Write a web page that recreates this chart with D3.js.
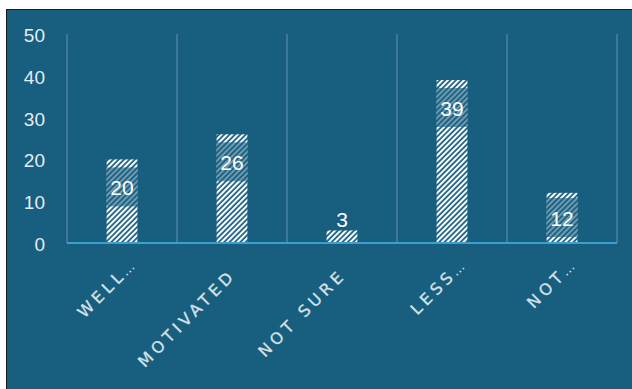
<!DOCTYPE html>
<html>
<head>
<meta charset="utf-8">
<script src="https://cdn.jsdelivr.net/npm/d3@7"></script>
<style>
  html, body { margin: 0; padding: 0; background: #ffffff; }
  svg { display: block; }
</style>
</head>
<body>
<svg id="chart" width="632" height="389"></svg>
<script>
// ---- data ----
const categories = ["WELL", "MOTIVATED", "NOT SURE", "LESS", "NOT"];
const truncated = [true, false, false, true, true];
const values = [20, 26, 3, 39, 12];
const yTicks = [0, 10, 20, 30, 40, 50];

// ---- layout ----
const W = 632, H = 389;
const bg = "#175e7f";
const svg = d3.select("#chart");

svg.append("rect").attr("x", 6.5).attr("y", 9.5).attr("width", W).attr("height", H)
  .attr("fill", bg).attr("stroke", "#1b1b1b").attr("stroke-width", 1);

const x = d3.scaleBand().domain(categories).range([67, 617]).padding(0);
const xBar = d3.scaleBand().domain(categories).range([67, 617]).paddingInner(0.72).paddingOuter(0.36);
const y = d3.scaleLinear().domain([0, 50]).range([243, 34]);

// pattern
const defs = svg.append("defs");
const pat = defs.append("pattern").attr("id", "hatch").attr("patternUnits", "userSpaceOnUse")
  .attr("width", 3.8).attr("height", 3.8).attr("patternTransform", "rotate(45)");
pat.append("rect").attr("width", 3.8).attr("height", 3.8).attr("fill", bg);
pat.append("line").attr("x1", 1).attr("x2", 1).attr("y1", 0).attr("y2", 3.8)
  .attr("stroke", "#ffffff").attr("stroke-width", 2.1);

// vertical gridlines at band boundaries
const bounds = categories.map(c => x(c)).concat([x.range()[1]]);
svg.append("g").selectAll("line").data(bounds).join("line")
  .attr("x1", d => d).attr("x2", d => d)
  .attr("y1", y(50)).attr("y2", y(0))
  .attr("stroke", "#4a83a0").attr("stroke-width", 1.5);

// y labels
svg.append("g").selectAll("text").data(yTicks).join("text")
  .attr("x", 45).attr("y", d => y(d) + 1.5)
  .attr("text-anchor", "end").attr("dominant-baseline", "central")
  .attr("font-family", "Liberation Sans, Arial, sans-serif").attr("font-size", 19)
  .attr("fill", "#e4edf3").text(d => d);

// bars
const data = categories.map((c, i) => ({ c, v: values[i] }));
const g = svg.append("g");
g.selectAll("rect.bar").data(data).join("rect").attr("class", "bar")
  .attr("x", d => xBar(d.c)).attr("width", xBar.bandwidth())
  .attr("y", d => y(d.v)).attr("height", d => y(0) - y(d.v))
  .attr("fill", "url(#hatch)");

// label boxes + labels
const boxH = 39;
data.forEach(d => {
  const top = y(d.v);
  const cx = xBar(d.c) + xBar.bandwidth() / 2;
  if (y(0) - top > boxH + 10) {
    let bTop = top + 8;
    if (bTop + boxH > y(0) - 6) bTop = y(0) - 6 - boxH;
    g.append("rect").attr("x", xBar(d.c)).attr("width", xBar.bandwidth())
      .attr("y", bTop).attr("height", boxH).attr("fill", bg).attr("fill-opacity", 0.62);
    g.append("text").attr("x", cx).attr("y", bTop + boxH / 2 + 1)
      .attr("text-anchor", "middle").attr("dominant-baseline", "central")
      .attr("font-family", "Liberation Sans, Arial, sans-serif").attr("font-size", 21)
      .attr("fill", "#ffffff").text(d.v);
  } else {
    g.append("text").attr("x", cx).attr("y", top - 3)
      .attr("text-anchor", "middle")
      .attr("font-family", "Liberation Sans, Arial, sans-serif").attr("font-size", 21)
      .attr("fill", "#ffffff").text(d.v);
  }
});

// baseline
svg.append("line").attr("x1", x.range()[0]).attr("x2", x.range()[1])
  .attr("y1", y(0)).attr("y2", y(0)).attr("stroke", "#3b9fd2").attr("stroke-width", 2);

// x labels
const xl = svg.append("g");
const lblFont = "DejaVu Sans, Verdana, sans-serif";
categories.forEach((c, i) => {
  const cx = x(c) + x.bandwidth() / 2;
  const t = xl.append("g").attr("transform", `translate(${cx + 5},${276}) rotate(-45)`);
  t.append("text").attr("text-anchor", "end")
    .attr("font-family", lblFont).attr("font-size", 16)
    .attr("letter-spacing", 4.2).attr("fill", "#d4e2eb")
    .attr("stroke", "#d4e2eb").attr("stroke-width", 0.3).text(c);
  if (truncated[i]) {
    t.append("text").attr("text-anchor", "start").attr("x", -1)
      .attr("font-family", lblFont).attr("font-size", 13)
      .attr("letter-spacing", 1).attr("fill", "#d4e2eb").text("…");
  }
});
</script>
</body>
</html>
